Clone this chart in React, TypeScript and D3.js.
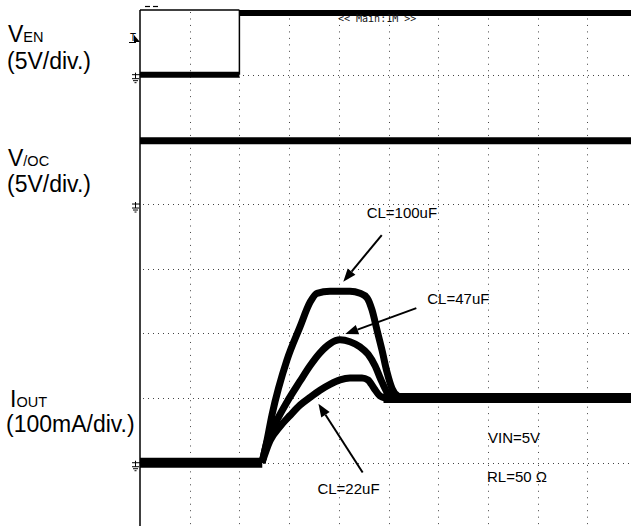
import React from "react";
import * as d3 from "d3";

// ---- data ----
// time in ms (1 ms/div), EN rising edge at t = 0
const gridTimes = [-1, 0, 1, 2, 3, 4, 5, 6, 7];
const gridDivs = [3, 2, 1, 0, -1, -2, -3];

// V_EN (5V/div)
const enLowTimes = [-2, 0];
const enHighTimes = [0, 7.9];
const enLow = 0;
const enHigh = 5;

// V/OC (5V/div)
const vocTimes = [-2, 7.9];
const vocLevel = 5;

// I_OUT (100mA/div)
const baseTimes = [-2, 0.46];
const baseCurrent = 0;
const steadyTimes = [2.9, 7.9];
const steadyCurrent = 100;

const t100 = [0.455, 0.535, 0.656, 0.958, 1.219, 1.421, 1.561, 1.823, 2.225, 2.427, 2.568, 2.669, 2.769, 2.87, 2.97, 3.07, 3.19, 3.33];
const i100 = [0, 27, 74, 159, 210, 248, 262, 265, 265, 262, 255, 236, 205, 174, 140, 115, 103, 100];

const t47 = [0.455, 0.555, 0.757, 0.958, 1.219, 1.421, 1.622, 1.823, 2.024, 2.225, 2.427, 2.588, 2.729, 2.85, 2.97, 3.09];
const i47 = [0, 32, 66, 94, 126, 150, 170, 184, 190, 187, 179, 168, 150, 128, 109, 100];

const t22 = [0.455, 0.616, 0.817, 1.018, 1.219, 1.421, 1.622, 1.823, 2.024, 2.225, 2.467, 2.588, 2.709, 2.83, 2.93];
const i22 = [0, 34, 56, 73, 89, 101, 112, 121, 128, 131, 131, 128, 115, 103, 100];

// annotations: label, text anchor (t, mA), arrow tail (t, mA), arrow tip (t, mA)
const annLabels = ["CL=100uF", "CL=47uF", "CL=22uF"];
const annText = [[2.56, 379], [3.78, 245], [1.57, -49]];
const annTail = [[2.864, 352], [3.56, 239], [2.48, -15]];
const annTip = [[2.09, 280], [2.13, 199], [1.59, 91]];

const W = 631;
const H = 526;

export default function App() {
  const x = d3.scaleLinear().domain([-2, 8]).range([140, 637]);
  const yDiv = d3.scaleLinear().domain([4, -4]).range([10, 527.4]);
  const yEN = (v: number) => yDiv(3 + v / 5);
  const yOC = (v: number) => yDiv(1 + v / 5);
  const yI = (i: number) => yDiv(-3 + i / 100);

  const line = d3
    .line<[number, number]>()
    .x((d) => x(d[0]))
    .y((d) => yI(d[1]))
    .curve(d3.curveMonotoneX);

  const curves = [
    [t100, i100],
    [t47, i47],
    [t22, i22],
  ].map(([ts, is]) => line(ts.map((t, k) => [t, is[k]] as [number, number])) || "");

  const font = "'Liberation Sans', Arial, sans-serif";
  const x0 = x(-2);
  const xr = W;

  const arrow = (k: number) => {
    const x1 = x(annTail[k][0]);
    const y1 = yI(annTail[k][1]);
    const x2 = x(annTip[k][0]);
    const y2 = yI(annTip[k][1]);
    const ang = Math.atan2(y2 - y1, x2 - x1);
    const len = 13;
    const hw = 5;
    const bx = x2 - len * Math.cos(ang);
    const by = y2 - len * Math.sin(ang);
    const px = -Math.sin(ang) * hw;
    const py = Math.cos(ang) * hw;
    return (
      <g key={"a" + k}>
        <line x1={x1} y1={y1} x2={bx} y2={by} stroke="#000" strokeWidth={2} />
        <polygon points={`${x2},${y2} ${bx + px},${by + py} ${bx - px},${by - py}`} fill="#000" />
      </g>
    );
  };

  const ground = (yy: number, key: string) => (
    <g key={key} stroke="#000" strokeWidth={1}>
      <line x1={132} y1={yy} x2={140} y2={yy} />
      <line x1={135.5} y1={yy - 2} x2={135.5} y2={yy + 4} />
      <line x1={132} y1={yy + 4} x2={139} y2={yy + 4} />
      <line x1={133} y1={yy + 6} x2={138} y2={yy + 6} />
      <line x1={134.5} y1={yy + 8} x2={136.5} y2={yy + 8} />
    </g>
  );

  return (
    <svg
      width={W}
      height={H}
      style={{ position: "fixed", left: 0, top: 0, background: "#fff" }}
      fontFamily={font}
    >
      <rect width={W} height={H} fill="#fff" />
      {/* grid */}
      <g stroke="#444" strokeWidth={1}>
        {gridTimes.map((t) => (
          <line
            key={"v" + t}
            x1={Math.round(x(t)) + 0.5}
            x2={Math.round(x(t)) + 0.5}
            y1={12}
            y2={H}
            strokeDasharray="1,5.47"
          />
        ))}
        {gridDivs.map((d) => (
          <line
            key={"h" + d}
            x1={x0 + 3}
            x2={xr}
            y1={Math.round(yDiv(d)) + 0.5}
            y2={Math.round(yDiv(d)) + 0.5}
            strokeDasharray="1,4"
          />
        ))}
      </g>
      {/* frame */}
      <line x1={x0} y1={10} x2={x0} y2={H} stroke="#000" strokeWidth={1.5} />
      <line x1={x0} y1={10} x2={x(0)} y2={10} stroke="#000" strokeWidth={1.5} />
      <line x1={145} y1={6.5} x2={150} y2={6.5} stroke="#000" strokeWidth={1.2} />
      <line x1={153} y1={6.5} x2={158} y2={6.5} stroke="#000" strokeWidth={1.2} />

      {/* V_EN */}
      <line x1={x(enLowTimes[0])} x2={x(enLowTimes[1])} y1={yEN(enLow)} y2={yEN(enLow)} stroke="#000" strokeWidth={6} />
      <line x1={x(0)} x2={x(0)} y1={yEN(enLow)} y2={yEN(enHigh)} stroke="#000" strokeWidth={1.5} />
      <line x1={x(enHighTimes[0])} x2={x(enHighTimes[1])} y1={yEN(enHigh) + 3} y2={yEN(enHigh) + 3} stroke="#000" strokeWidth={6} />

      {/* V/OC */}
      <line x1={x(vocTimes[0])} x2={x(vocTimes[1])} y1={yOC(vocLevel) + 1.5} y2={yOC(vocLevel) + 1.5} stroke="#000" strokeWidth={7} />

      {/* I_OUT */}
      <line x1={x(baseTimes[0])} x2={x(baseTimes[1])} y1={yI(baseCurrent)} y2={yI(baseCurrent)} stroke="#000" strokeWidth={10} />
      <line x1={x(steadyTimes[0])} x2={x(steadyTimes[1])} y1={yI(steadyCurrent)} y2={yI(steadyCurrent)} stroke="#000" strokeWidth={10} />
      {curves.map((d, k) => (
        <path key={"c" + k} d={d} fill="none" stroke="#000" strokeWidth={7} strokeLinejoin="round" />
      ))}

      {/* markers */}
      {ground(yEN(0), "g1")}
      {ground(yOC(0), "g2")}
      {ground(yI(0), "g3")}
      <text x={130} y={41} fontSize={10} fontFamily="'DejaVu Sans Mono', monospace">T</text>
      <line x1={129} y1={42.5} x2={136} y2={42.5} stroke="#000" strokeWidth={1} />
      <polygon points="134,35 140,42 134,42" fill="#000" />

      <text x={338} y={22} fontSize={10} fontFamily="'DejaVu Sans Mono', monospace" fill="#111">
        {"<< Main:1M >>"}
      </text>

      {/* left labels */}
      <g fontSize={23} fill="#000">
        <text x={8} y={41.7}>
          V<tspan fontSize={14.5}>EN</tspan>
        </text>
        <text x={7} y={69}>(5V/div.)</text>
        <text x={8} y={166}>
          V<tspan fontSize={14.5}>/OC</tspan>
        </text>
        <text x={7} y={192}>(5V/div.)</text>
        <text x={10} y={407}>
          I<tspan fontSize={14.5}>OUT</tspan>
        </text>
        <text x={6} y={432}>(100mA/div.)</text>
      </g>

      {/* annotations */}
      {annLabels.map((s, k) => (
        <text key={"t" + k} x={x(annText[k][0])} y={yI(annText[k][1])} fontSize={15} fill="#000">
          {s}
        </text>
      ))}
      {annLabels.map((_, k) => arrow(k))}
      <text x={488} y={442.7} fontSize={15} fill="#000">VIN=5V</text>
      <text x={487} y={482.3} fontSize={15} fill="#000">RL=50 Ω</text>
    </svg>
  );
}
